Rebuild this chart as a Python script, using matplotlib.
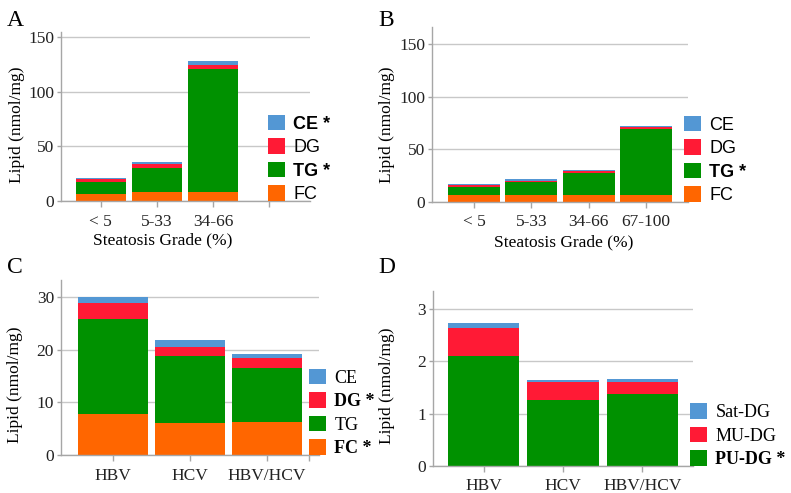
import matplotlib
matplotlib.use("Agg")
import matplotlib.pyplot as plt
import numpy as np
from matplotlib.patches import Patch

# panel A: steatosis grade (3 grades, 4th slot left empty)
grades_a = ["< 5", "5-33", "34-66"]
fc_a = [6.7, 7.9, 7.9]
tg_a = [10.4, 22.3, 113.1]
dg_a = [3.0, 3.9, 3.7]
ce_a = [0.9, 1.3, 3.3]

# panel B
grades_b = ["< 5", "5-33", "34-66", "67-100"]
fc_b = [6.3, 6.3, 7.0, 7.0]
tg_b = [7.9, 12.4, 20.2, 62.0]
dg_b = [1.9, 1.2, 1.9, 1.9]
ce_b = [0.7, 1.9, 1.3, 1.6]

# panel C: virus groups
groups = ["HBV", "HCV", "HBV/HCV"]
fc_c = [7.7, 6.1, 6.3]
tg_c = [18.1, 12.6, 10.3]
dg_c = [3.0, 1.8, 1.8]
ce_c = [1.2, 1.3, 0.8]

# panel D: DG species
pu_d = [2.10, 1.26, 1.37]
mu_d = [0.54, 0.34, 0.24]
sat_d = [0.08, 0.04, 0.05]

BLUE = "#5397d4"
RED = "#ff1a35"
GREEN = "#009100"
ORANGE = "#ff6600"
GRID = "#c8c8c8"
SPINE = "#a6a6a6"

SERIF = "Liberation Serif"
SANS = "Liberation Sans"
W, H = 791, 493

plt.rcParams["font.family"] = SERIF
plt.rcParams["font.size"] = 12


def px_axes(fig, left, right, top, bottom):
    return fig.add_axes([left / W, 1 - bottom / H, (right - left) / W, (bottom - top) / H])


def style(ax, yticks, ylim, xlim):
    ax.set_ylim(*ylim)
    ax.set_xlim(*xlim)
    ax.set_yticks(yticks)
    for s in ("top", "right"):
        ax.spines[s].set_visible(False)
    for s in ("left", "bottom"):
        ax.spines[s].set_color(SPINE)
        ax.spines[s].set_linewidth(1.0)
    ax.tick_params(axis="both", colors=SPINE, labelcolor="#222222", length=4, width=1,
                   labelsize=12.5)
    ax.tick_params(axis="x", pad=5)
    ax.tick_params(axis="y", pad=2, length=3)
    ax.yaxis.grid(True, color=GRID, linewidth=1)
    ax.set_axisbelow(True)


def stack(ax, series, colors, width):
    x = np.arange(len(series[0]))
    bottom = np.zeros(len(x))
    for vals, col in zip(series, colors):
        ax.bar(x, vals, width, bottom=bottom, color=col, linewidth=0)
        bottom += np.array(vals)
    return x


def add_legend(fig, labels, colors, bold, left, bottom, family, fs):
    handles = [Patch(facecolor=c, edgecolor="none") for c in colors]
    leg = fig.legend(handles, labels, loc="lower left",
                     bbox_to_anchor=(left / W, 1 - bottom / H),
                     bbox_transform=fig.transFigure, frameon=False,
                     borderpad=0, borderaxespad=0, handlelength=0.95,
                     handleheight=0.95, handletextpad=0.45, labelspacing=0.3,
                     prop={"family": family, "size": fs})
    for t, b in zip(leg.get_texts(), bold):
        if b:
            t.set_fontweight("bold")
    return leg


fig = plt.figure(figsize=(W / 100, H / 100), dpi=100)

# A
ax = px_axes(fig, 61, 310, 32, 201)
stack(ax, [fc_a, tg_a, dg_a, ce_a], [ORANGE, GREEN, RED, BLUE], 0.9)
style(ax, [0, 50, 100, 150], (0, 155), (-0.71, 3.73))
ax.set_xticks(range(4))
ax.set_xticklabels(grades_a + [""])
ax.set_ylabel("Lipid (nmol/mg)", fontsize=12.5)
ax.yaxis.set_label_coords(-0.145, 0.45)
ax.set_xlabel("Steatosis Grade (%)", fontsize=12.5)
ax.xaxis.set_label_coords(0.41, -0.185)
add_legend(fig, ["CE *", "DG", "TG *", "FC"], [BLUE, RED, GREEN, ORANGE],
           [True, False, True, False], 268, 203, SANS, 13)

# B
ax = px_axes(fig, 432, 688, 27, 202)
stack(ax, [fc_b, tg_b, dg_b, ce_b], [ORANGE, GREEN, RED, BLUE], 0.91)
style(ax, [0, 50, 100, 150], (0, 166), (-0.73, 3.73))
ax.set_xticks(range(4))
ax.set_xticklabels(grades_b)
ax.set_ylabel("Lipid (nmol/mg)", fontsize=12.5)
ax.yaxis.set_label_coords(-0.143, 0.44)
ax.set_xlabel("Steatosis Grade (%)", fontsize=12.5)
ax.xaxis.set_label_coords(0.516, -0.185)
add_legend(fig, ["CE", "DG", "TG *", "FC"], [BLUE, RED, GREEN, ORANGE],
           [False, False, True, False], 684, 204, SANS, 13)

# C
ax = px_axes(fig, 61, 319, 280, 455)
stack(ax, [fc_c, tg_c, dg_c, ce_c], [ORANGE, GREEN, RED, BLUE], 0.91)
style(ax, [0, 10, 20, 30], (0, 33.2), (-0.67, 2.68))
ax.set_xticks(range(3))
ax.set_xticklabels(groups)
ax.set_xticks([2.55], minor=True)
ax.tick_params(axis="x", which="minor", colors=SPINE, length=4, width=1)
ax.set_ylabel("Lipid (nmol/mg)", fontsize=12.5)
ax.yaxis.set_label_coords(-0.147, 0.40)
add_legend(fig, ["CE", "DG *", "TG", "FC *"], [BLUE, RED, GREEN, ORANGE],
           [False, True, False, True], 309, 457, SERIF, 13)

# D
ax = px_axes(fig, 433, 693, 291, 466)
stack(ax, [pu_d, mu_d, sat_d], [GREEN, RED, BLUE], 0.9)
style(ax, [0, 1, 2, 3], (0, 3.34), (-0.64, 2.64))
ax.set_xticks(range(3))
ax.set_xticklabels(groups)
ax.set_ylabel("Lipid (nmol/mg)", fontsize=12.5)
ax.yaxis.set_label_coords(-0.145, 0.46)
add_legend(fig, ["Sat-DG", "MU-DG", "PU-DG *"], [BLUE, RED, GREEN],
           [False, False, True], 690, 468, SERIF, 13)

for letter, x, y in [("A", 7, 10), ("B", 378, 10), ("C", 7, 257), ("D", 378, 257)]:
    fig.text(x / W, 1 - y / H, letter, fontsize=17, va="top", ha="left")

fig.savefig("out.png", dpi=100)
